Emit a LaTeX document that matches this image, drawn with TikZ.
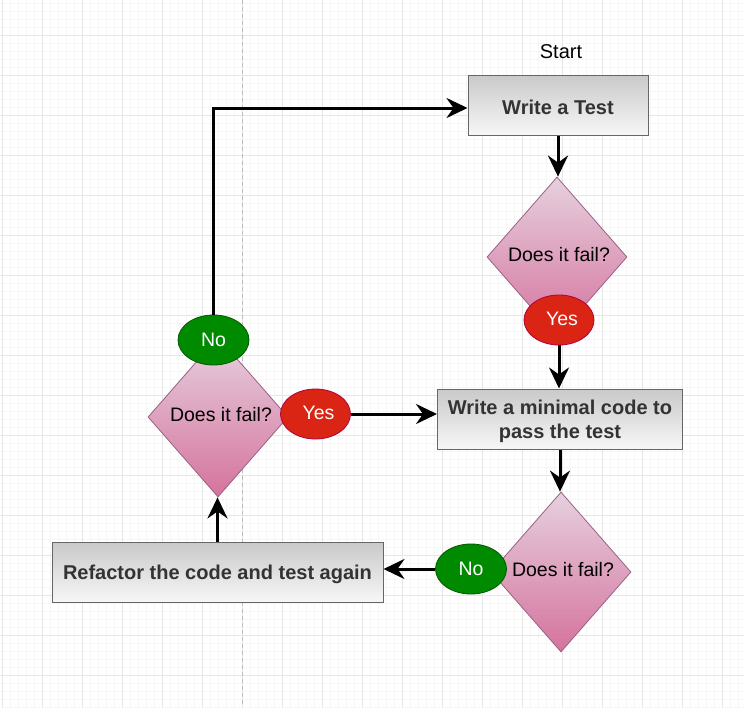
\documentclass[tikz,border=0pt]{standalone}
\usepackage{fontspec}
\setmainfont{Liberation Sans}
\usetikzlibrary{shapes.geometric,arrows.meta}
\definecolor{gridmajor}{HTML}{E6E6E6}
\definecolor{gridminor}{HTML}{F6F6F6}
\definecolor{boxtop}{HTML}{C9C9C9}
\definecolor{boxbot}{HTML}{F7F7F7}
\definecolor{boxline}{HTML}{666666}
\definecolor{boxtext}{HTML}{333333}
\definecolor{diatop}{HTML}{E6D0DE}
\definecolor{diabot}{HTML}{D5739D}
\definecolor{dialine}{HTML}{996185}
\definecolor{yesfill}{HTML}{DA2414}
\definecolor{yesline}{HTML}{B0003A}
\definecolor{nofill}{HTML}{008A00}
\definecolor{noline}{HTML}{005700}
\definecolor{dashline}{HTML}{BDBDBD}
\begin{document}
\begin{tikzpicture}[x=1pt,y=-1pt,
  stepbox/.style={draw=boxline, line width=1pt, top color=boxtop, bottom color=boxbot,
    minimum height=60pt, inner sep=0pt},
  boxlabel/.style={inner sep=0pt, text=boxtext, yshift=-2pt,
    font=\fontsize{20}{24}\selectfont\bfseries, align=center},
  decision/.style={diamond, draw=dialine, line width=0.8pt, top color=diatop,
    bottom color=diabot, minimum width=140pt, minimum height=160pt, inner sep=0pt},
  dtext/.style={font=\fontsize{19.5}{23}\selectfont, text=black, inner sep=0pt},
  balltext/.style={inner sep=0pt, text=white, font=\fontsize{19.5}{23}\selectfont},
  yesball/.style={ellipse, draw=yesline, fill=yesfill, line width=0.8pt,
    minimum width=70pt, minimum height=50pt, inner sep=0pt},
  noball/.style={ellipse, draw=noline, fill=nofill, line width=0.8pt,
    minimum width=71pt, minimum height=50pt, inner sep=0pt},
  flow/.style={line width=3pt, -{Stealth[length=21pt,width=20pt,inset=7pt]}},
  gminor/.style={gridminor, line width=1pt},
  gmajor/.style={gridmajor, line width=1pt}
]
\useasboundingbox (0,0) rectangle (744,707);
\fill[white] (0,0) rectangle (744,707);
% grid
\foreach \i in {0,...,92} \draw[gminor] (2+8*\i,0) -- (2+8*\i,707);
\foreach \j in {0,...,88} \draw[gminor] (0,3+8*\j) -- (744,3+8*\j);
\foreach \i in {0,...,18} \draw[gmajor] (2+40*\i,0) -- (2+40*\i,707);
\foreach \j in {0,...,16} \draw[gmajor] (0,35+40*\j) -- (744,35+40*\j);
\draw[dashline, line width=1pt, dash pattern=on 4pt off 3pt] (242,0) -- (242,707);

% nodes
\node[font=\fontsize{20}{24}\selectfont, text=black, inner sep=0pt] (start) at (561,52) {Start};
\node[stepbox, minimum width=180pt, label={[boxlabel]center:Write a Test}] (b1) at (558,105) {};
\node[decision] (d1) at (557,257) {};
\node[dtext] (t1) at (559,255) {Does it fail?};
\node[yesball, label={[balltext, xshift=3pt, yshift=1pt]center:Yes}] (y1) at (559,320) {};
\node[stepbox, minimum width=245pt, label={[boxlabel]center:{Write a minimal code to\\pass the test}}] (b2) at (560,419) {};
\node[decision] (d3) at (561,572) {};
\node[dtext] (t3) at (563,570) {Does it fail?};
\node[noball, label={[balltext]center:No}] (n3) at (471,569) {};
\node[stepbox, minimum width=331pt, label={[boxlabel]center:Refactor the code and test again}] (b3) at (217.5,572) {};
\node[decision] (d2) at (218,417) {};
\node[dtext] (t2) at (221,415) {Does it fail?};
\node[noball, label={[balltext]center:No}] (n2) at (213.5,340) {};
\node[yesball, label={[balltext, xshift=3pt, yshift=1pt]center:Yes}] (y2) at (315.5,414) {};

% connectors
\draw[flow] (b1.south) -- (b1.south |- d1.north);
\draw[flow] (y1.south) -- (y1.south |- b2.north);
\draw[flow] (b2.south) -- (b2.south |- d3.north);
\draw[flow] (n3.west) -- (n3.west -| b3.east);
\draw[flow] (b3.north) -- (b3.north |- d2.south);
\draw[flow] (y2.east) -- (y2.east -| b2.west);
\draw[flow] (n2.north) |- ([yshift=-3pt]b1.west);
\end{tikzpicture}
\end{document}
